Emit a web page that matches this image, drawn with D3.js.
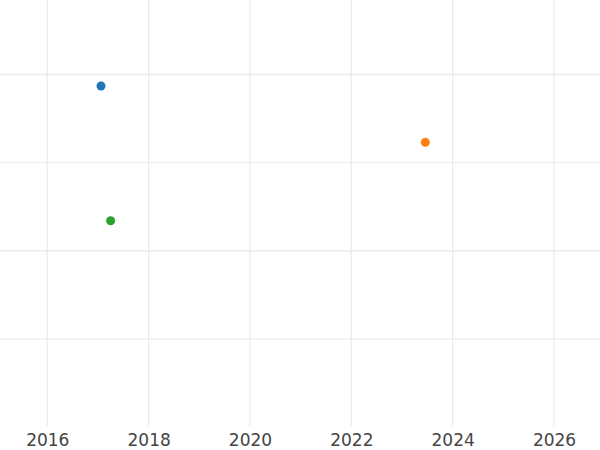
<!DOCTYPE html>
<html>
<head>
<meta charset="utf-8">
<script src="https://cdn.jsdelivr.net/npm/d3@7"></script>
<style>
  body { margin: 0; background: #fff; }
  svg { display: block; }
</style>
</head>
<body>
<div id="chart"></div>
<script>
// data
var years = [2017.06, 2023.46, 2017.25];
var values = [3.87, 3.23, 2.34];
var colors = ['#1f77b4', '#ff7f0e', '#2ca02c'];
var xTicks = [2016, 2018, 2020, 2022, 2024, 2026];
var yTicks = [1, 2, 3, 4];

var width = 600;
var height = 450;
var plotBottom = 426;

var svg = d3.select('#chart').append('svg')
  .attr('width', width)
  .attr('height', height);

var x = d3.scaleLinear().domain([2016, 2026]).range([47.3, 554]);
var y = d3.scaleLinear().domain([0, 4]).range([427, 74.5]);

// grid
svg.append('g').selectAll('line.v')
  .data(xTicks)
  .enter().append('line')
  .attr('class', 'v')
  .attr('x1', function (d) { return x(d); })
  .attr('x2', function (d) { return x(d); })
  .attr('y1', 0)
  .attr('y2', plotBottom)
  .attr('stroke', '#ebebeb')
  .attr('stroke-width', 1.3);

svg.append('g').selectAll('line.h')
  .data(yTicks)
  .enter().append('line')
  .attr('class', 'h')
  .attr('x1', 0)
  .attr('x2', width)
  .attr('y1', function (d) { return y(d); })
  .attr('y2', function (d) { return y(d); })
  .attr('stroke', '#ebebeb')
  .attr('stroke-width', 1.3);

// x axis labels
var xAxis = svg.append('g')
  .attr('transform', 'translate(0,' + plotBottom + ')')
  .call(d3.axisBottom(x).tickValues(xTicks).tickFormat(d3.format('d')).tickSize(0).tickPadding(8));
xAxis.select('.domain').remove();
xAxis.selectAll('text')
  .attr('fill', '#444')
  .style('font-family', 'DejaVu Sans, sans-serif')
  .style('font-size', '17px');

// points
svg.append('g').selectAll('circle')
  .data(years)
  .enter().append('circle')
  .attr('cx', function (d) { return x(d); })
  .attr('cy', function (d, i) { return y(values[i]); })
  .attr('r', 4.5)
  .attr('fill', function (d, i) { return colors[i]; });
</script>
</body>
</html>
